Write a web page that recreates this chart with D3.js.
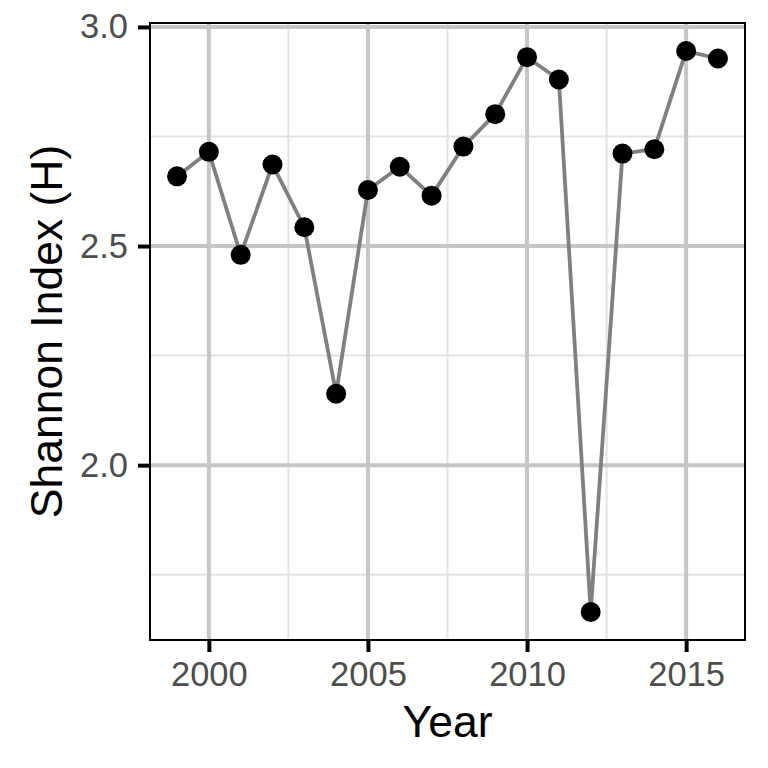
<!DOCTYPE html>
<html>
<head>
<meta charset="utf-8">
<script src="https://cdn.jsdelivr.net/npm/d3@7"></script>
<style>
  html, body { margin: 0; padding: 0; background: #fff; }
  svg { display: block; }
  text { font-family: "Liberation Sans", Arial, Helvetica, sans-serif; }
</style>
</head>
<body>
<svg id="chart" width="768" height="768"></svg>
<script>
const years = [1999, 2000, 2001, 2002, 2003, 2004, 2005, 2006, 2007, 2008, 2009, 2010, 2011, 2012, 2013, 2014, 2015, 2016];
const shannon = [2.659, 2.715, 2.480, 2.686, 2.543, 2.163, 2.628, 2.681, 2.615, 2.727, 2.801, 2.931, 2.880, 1.665, 2.711, 2.721, 2.945, 2.928];
const xTicks = [2000, 2005, 2010, 2015];
const xMinor = [2002.5, 2007.5, 2012.5];
const yTicks = [2.0, 2.5, 3.0];
const yMinor = [1.75, 2.25, 2.75];
const xTitle = "Year";
const yTitle = "Shannon Index (H)";

const svg = d3.select("#chart");
const L = 150, R = 745, T = 23, B = 640;

function expand(ext, f) { const s = ext[1] - ext[0]; return [ext[0] - s * f, ext[1] + s * f]; }
const x = d3.scaleLinear().domain(expand(d3.extent(years), 0.05)).range([L, R]);
const y = d3.scaleLinear().domain(expand(d3.extent(shannon), 0.05)).range([B, T]);

const g = svg.append("g");
g.append("rect").attr("x", L).attr("y", T).attr("width", R - L).attr("height", B - T).attr("fill", "#fff");

// minor grid
g.selectAll(".ymin").data(yMinor).join("line")
  .attr("x1", L).attr("x2", R).attr("y1", d => y(d)).attr("y2", d => y(d))
  .attr("stroke", "#e3e3e3").attr("stroke-width", 2);
g.selectAll(".xmin").data(xMinor).join("line")
  .attr("y1", T).attr("y2", B).attr("x1", d => x(d)).attr("x2", d => x(d))
  .attr("stroke", "#e3e3e3").attr("stroke-width", 2);
// major grid
g.selectAll(".ymaj").data(yTicks).join("line")
  .attr("x1", L).attr("x2", R).attr("y1", d => y(d)).attr("y2", d => y(d))
  .attr("stroke", "#c6c6c6").attr("stroke-width", 4);
g.selectAll(".xmaj").data(xTicks).join("line")
  .attr("y1", T).attr("y2", B).attr("x1", d => x(d)).attr("x2", d => x(d))
  .attr("stroke", "#c6c6c6").attr("stroke-width", 4);

// line
const line = d3.line().x((d, i) => x(years[i])).y(d => y(d));
g.append("path").datum(shannon).attr("d", line)
  .attr("fill", "none").attr("stroke", "#808080").attr("stroke-width", 3.8)
  .attr("stroke-linejoin", "round");

// points
g.selectAll(".pt").data(shannon).join("circle")
  .attr("cx", (d, i) => x(years[i])).attr("cy", d => y(d)).attr("r", 10)
  .attr("fill", "#000");

// panel border
g.append("rect").attr("x", L).attr("y", T).attr("width", R - L).attr("height", B - T)
  .attr("fill", "none").attr("stroke", "#000").attr("stroke-width", 2);

// axes
const xAxis = d3.axisBottom(x).tickValues(xTicks).tickFormat(d3.format("d")).tickSize(12).tickPadding(10);
const yAxis = d3.axisLeft(y).tickValues(yTicks).tickFormat(d3.format(".1f")).tickSize(12).tickPadding(10);

const gx = svg.append("g").attr("transform", `translate(0,${B})`).call(xAxis);
const gy = svg.append("g").attr("transform", `translate(${L},0)`).call(yAxis);
[gx, gy].forEach(a => {
  a.select(".domain").remove();
  a.selectAll(".tick line").attr("stroke", "#000").attr("stroke-width", 4);
  a.selectAll(".tick text").attr("fill", "#4d4d4d").attr("font-size", 34.5)
    .attr("font-family", "'Liberation Sans', Arial, sans-serif");
});

// titles
svg.append("text").attr("x", (L + R) / 2).attr("y", 737).attr("text-anchor", "middle")
  .attr("font-size", 44.5).attr("fill", "#000").text(xTitle);
svg.append("text").attr("transform", `translate(62,${(T + B) / 2}) rotate(-90)`)
  .attr("text-anchor", "middle").attr("font-size", 44.5).attr("fill", "#000").text(yTitle);
</script>
</body>
</html>
